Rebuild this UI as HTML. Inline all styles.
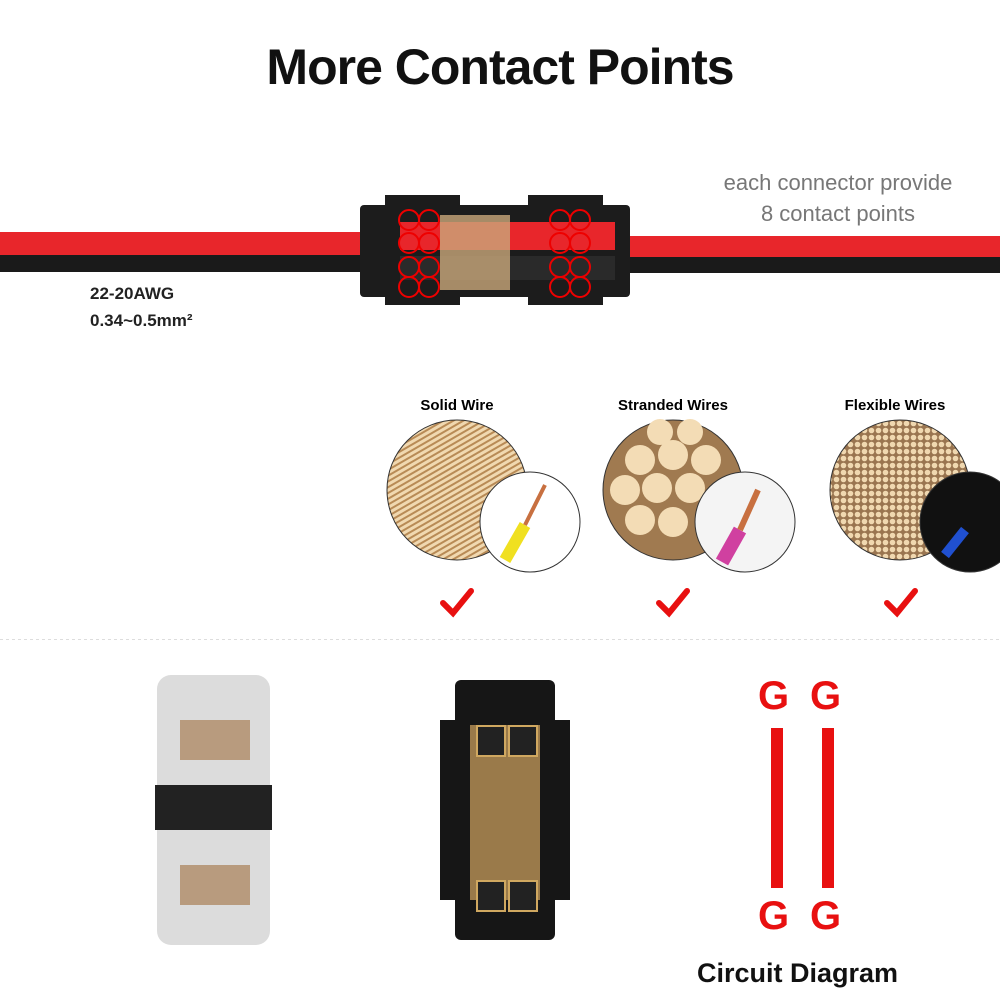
<!DOCTYPE html>
<html><head><meta charset="utf-8"><style>
body{margin:0;width:1000px;height:1000px;background:#fff;position:relative;overflow:hidden;font-family:"Liberation Sans",sans-serif}
.a{position:absolute}
</style></head><body>
<div class="a" style="left:0;width:1000px;top:38px;text-align:center;font-size:50px;font-weight:bold;color:#111;letter-spacing:-1px">More Contact Points</div>

<!-- wires -->
<div class="a" style="left:0;top:232px;width:380px;height:24px;background:#e8262b"></div>
<div class="a" style="left:0;top:255px;width:380px;height:17px;background:#1a1a1a"></div>
<div class="a" style="left:610px;top:236px;width:390px;height:22px;background:#e8262b"></div>
<div class="a" style="left:610px;top:257px;width:390px;height:16px;background:#1a1a1a"></div>
<!-- connector -->
<div class="a" style="left:360px;top:205px;width:270px;height:92px;background:#1c1c1c;border-radius:4px"></div>
<div class="a" style="left:385px;top:195px;width:75px;height:110px;background:#1c1c1c"></div>
<div class="a" style="left:528px;top:195px;width:75px;height:110px;background:#1c1c1c"></div>
<div class="a" style="left:400px;top:222px;width:115px;height:28px;background:#e8262b"></div>
<div class="a" style="left:505px;top:222px;width:110px;height:28px;background:#e8262b"></div>
<div class="a" style="left:400px;top:256px;width:215px;height:24px;background:#2a2a2a"></div>
<div class="a" style="left:440px;top:215px;width:70px;height:75px;background:#c9a77a;opacity:.8"></div>
<svg class="a" style="left:395px;top:205px" width="200" height="95">
<g fill="none" stroke="#e00" stroke-width="2">
<circle cx="14" cy="15" r="10"/><circle cx="34" cy="15" r="10"/><circle cx="14" cy="38" r="10"/><circle cx="34" cy="38" r="10"/>
<circle cx="14" cy="62" r="10"/><circle cx="34" cy="62" r="10"/><circle cx="14" cy="82" r="10"/><circle cx="34" cy="82" r="10"/>
<circle cx="165" cy="15" r="10"/><circle cx="185" cy="15" r="10"/><circle cx="165" cy="38" r="10"/><circle cx="185" cy="38" r="10"/>
<circle cx="165" cy="62" r="10"/><circle cx="185" cy="62" r="10"/><circle cx="165" cy="82" r="10"/><circle cx="185" cy="82" r="10"/>
</g></svg>
<div class="a" style="left:700px;width:276px;top:167px;text-align:center;font-size:22px;color:#777;line-height:31px">each connector provide<br>8 contact points</div>
<div class="a" style="left:90px;top:280px;font-size:17px;font-weight:bold;color:#222;line-height:27px">22-20AWG<br>0.34~0.5mm²</div>

<!-- wire types -->
<div class="a" style="left:357px;width:200px;top:397px;text-align:center;font-size:15px;font-weight:bold">Solid Wire</div>
<div class="a" style="left:573px;width:200px;top:397px;text-align:center;font-size:15px;font-weight:bold">Stranded Wires</div>
<div class="a" style="left:795px;width:200px;top:397px;text-align:center;font-size:15px;font-weight:bold">Flexible Wires</div>
<svg class="a" style="left:0;top:0" width="1000" height="640">
<defs>
<pattern id="p1" width="5" height="5" patternUnits="userSpaceOnUse" patternTransform="rotate(60)"><rect width="5" height="5" fill="#f0d8b0"/><rect width="2" height="5" fill="#b88a55"/></pattern>
<pattern id="p3" width="7" height="7" patternUnits="userSpaceOnUse"><rect width="7" height="7" fill="#9a7550"/><circle cx="3.5" cy="3.5" r="2.8" fill="#f0d8b0"/></pattern>
</defs>
<circle cx="457" cy="490" r="70" fill="url(#p1)" stroke="#333"/>
<circle cx="530" cy="522" r="50" fill="#fff" stroke="#333"/>
<line x1="505" y1="560" x2="525" y2="525" stroke="#f0e020" stroke-width="12"/>
<line x1="525" y1="525" x2="545" y2="485" stroke="#c87040" stroke-width="4"/>
<circle cx="673" cy="490" r="70" fill="#a07a50" stroke="#333"/>
<g fill="#f3dcb5">
<circle cx="640" cy="460" r="15"/><circle cx="673" cy="455" r="15"/><circle cx="706" cy="460" r="15"/>
<circle cx="625" cy="490" r="15"/><circle cx="657" cy="488" r="15"/><circle cx="690" cy="488" r="15"/>
<circle cx="640" cy="520" r="15"/><circle cx="673" cy="522" r="15"/><circle cx="660" cy="432" r="13"/><circle cx="690" cy="432" r="13"/>
</g>
<circle cx="745" cy="522" r="50" fill="#f4f4f4" stroke="#333"/>
<line x1="722" y1="562" x2="740" y2="530" stroke="#d040a0" stroke-width="14"/>
<line x1="740" y1="530" x2="758" y2="490" stroke="#c87040" stroke-width="6"/>
<circle cx="900" cy="490" r="70" fill="url(#p3)" stroke="#333"/>
<circle cx="970" cy="522" r="50" fill="#111" stroke="#333"/>
<line x1="945" y1="555" x2="965" y2="530" stroke="#2050d0" stroke-width="10"/>
<g fill="none" stroke="#e81010" stroke-width="6" stroke-linecap="round">
<path d="M443 603 l10 10 l18 -22"/><path d="M659 603 l10 10 l18 -22"/><path d="M887 603 l10 10 l18 -22"/>
</g>
<line x1="0" y1="640" x2="1000" y2="640" stroke="#bbb" stroke-dasharray="3 3"/>
</svg>

<!-- clear connector -->
<div class="a" style="left:157px;top:675px;width:113px;height:270px;background:#dcdcdc;border-radius:14px"></div>
<div class="a" style="left:155px;top:785px;width:117px;height:45px;background:#222"></div>
<div class="a" style="left:180px;top:720px;width:70px;height:40px;background:#a07040;opacity:.6"></div>
<div class="a" style="left:180px;top:865px;width:70px;height:40px;background:#a07040;opacity:.6"></div>
<!-- black connector -->
<div class="a" style="left:455px;top:680px;width:100px;height:260px;background:#161616;border-radius:6px"></div>
<div class="a" style="left:440px;top:720px;width:130px;height:180px;background:#161616"></div>
<div class="a" style="left:470px;top:725px;width:70px;height:175px;background:#9a7a4a"></div>
<div class="a" style="left:476px;top:725px;width:26px;height:28px;border:2px solid #d0a860;background:#222"></div>
<div class="a" style="left:508px;top:725px;width:26px;height:28px;border:2px solid #d0a860;background:#222"></div>
<div class="a" style="left:476px;top:880px;width:26px;height:28px;border:2px solid #d0a860;background:#222"></div>
<div class="a" style="left:508px;top:880px;width:26px;height:28px;border:2px solid #d0a860;background:#222"></div>

<!-- circuit -->
<div class="a" style="left:758px;top:674px;font-size:40px;font-weight:bold;color:#e81010">G</div>
<div class="a" style="left:810px;top:674px;font-size:40px;font-weight:bold;color:#e81010">G</div>
<div class="a" style="left:758px;top:894px;font-size:40px;font-weight:bold;color:#e81010">G</div>
<div class="a" style="left:810px;top:894px;font-size:40px;font-weight:bold;color:#e81010">G</div>
<div class="a" style="left:771px;top:728px;width:12px;height:160px;background:#e81010"></div>
<div class="a" style="left:822px;top:728px;width:12px;height:160px;background:#e81010"></div>
<div class="a" style="left:680px;width:235px;top:958px;text-align:center;font-size:27px;font-weight:bold;color:#111">Circuit Diagram</div>
</body></html>
